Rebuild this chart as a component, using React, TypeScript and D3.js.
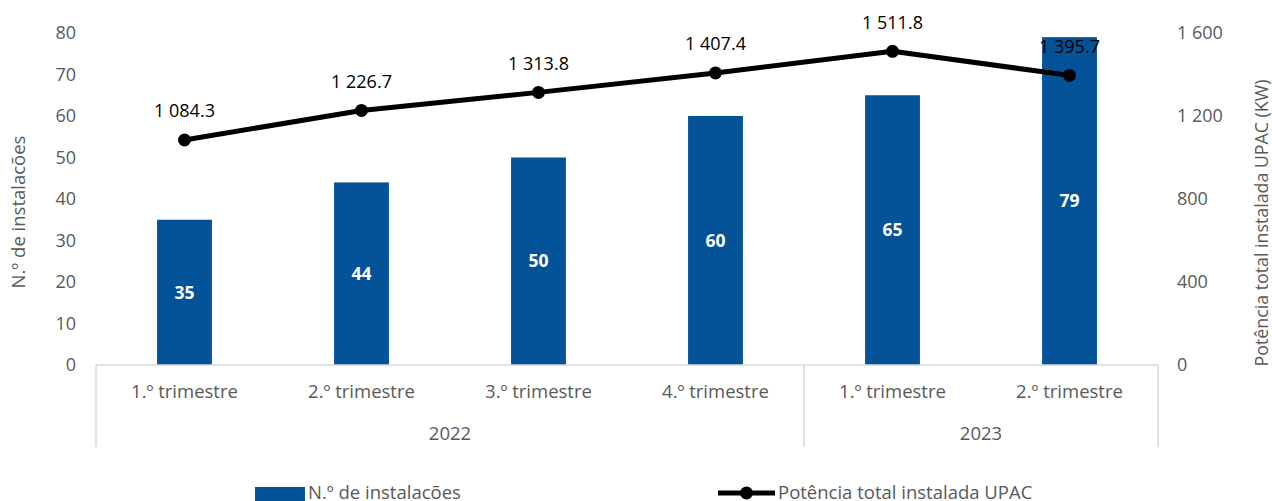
import React from "react";
import * as d3 from "d3";

const categories = ["1.º trimestre", "2.º trimestre", "3.º trimestre", "4.º trimestre", "1.º trimestre", "2.º trimestre"];
const years = ["2022", "2022", "2022", "2022", "2023", "2023"];
const installations = [35, 44, 50, 60, 65, 79];
const power = [1084.3, 1226.7, 1313.8, 1407.4, 1511.8, 1395.7];
const leftTicks = [0, 10, 20, 30, 40, 50, 60, 70, 80];
const rightTicks = [0, 400, 800, 1200, 1600];

const W = 1272, H = 501;
const left = 96, right = 1158, top = 33, bottom = 365;
const FONT = "'Open Sans', sans-serif";
const BLUE = "#045297";
const GREY = "#595959";

const fmtSpace = (v: number, dec: number) => {
  const s = v.toFixed(dec);
  const [i, f] = s.split(".");
  const ii = i.replace(/\B(?=(\d{3})+(?!\d))/g, " ");
  return f ? `${ii}.${f}` : ii;
};

export default function App() {
  const idx = categories.map((_, i) => String(i));
  const x = d3.scaleBand<string>().domain(idx).range([left, right]).paddingInner(0.69).paddingOuter(0.345);
  const yL = d3.scaleLinear().domain([0, 80]).range([bottom, top]);
  const yR = d3.scaleLinear().domain([0, 1600]).range([bottom, top]);
  const cx = (i: number) => (x(String(i)) as number) + x.bandwidth() / 2;
  const line = d3.line<number>().x((_, i) => cx(i)).y((d) => yR(d));

  const groups: { year: string; start: number; end: number }[] = [];
  years.forEach((yv, i) => {
    const g = groups[groups.length - 1];
    if (g && g.year === yv) g.end = i;
    else groups.push({ year: yv, start: i, end: i });
  });
  const bandStart = (i: number) => left + (right - left) * i / categories.length;

  return (
    <svg width={W} height={H} style={{ position: "absolute", left: 0, top: 0, background: "#fff" }}>
      {installations.map((v, i) => (
        <rect key={i} x={x(String(i))} y={yL(v)} width={x.bandwidth()} height={yL(0) - yL(v)} fill={BLUE} />
      ))}
      {installations.map((v, i) => (
        <text key={i} x={cx(i)} y={(yL(v) + yL(0)) / 2} dy="0.35em" textAnchor="middle" fill="#fff"
          fontFamily={FONT} fontWeight={700} fontSize={17.5}>{v}</text>
      ))}
      <line x1={left} x2={right} y1={bottom} y2={bottom} stroke="#d9d9d9" strokeWidth={1.5} />
      {groups.map((g, k) => (
        <line key={"gs" + k} x1={bandStart(g.start)} x2={bandStart(g.start)} y1={bottom} y2={447} stroke="#d9d9d9" strokeWidth={1.5} />
      ))}
      <line x1={right} x2={right} y1={bottom} y2={447} stroke="#d9d9d9" strokeWidth={1.5} />
      {categories.map((c, i) => (
        <text key={"c" + i} x={cx(i)} y={392} dy="0.35em" textAnchor="middle" fill={GREY} fontFamily={FONT} fontSize={18.5}>{c}</text>
      ))}
      {groups.map((g, k) => (
        <text key={"g" + k} x={(bandStart(g.start) + bandStart(g.end + 1)) / 2} y={434} dy="0.35em" textAnchor="middle"
          fill={GREY} fontFamily={FONT} fontSize={18.5}>{g.year}</text>
      ))}
      {leftTicks.map((t) => (
        <text key={"l" + t} x={76} y={yL(t)} dy="0.35em" textAnchor="end" fill={GREY} fontFamily={FONT} fontSize={18}>{t}</text>
      ))}
      {rightTicks.map((t) => (
        <text key={"r" + t} x={1177} y={yR(t)} dy="0.35em" textAnchor="start" fill={GREY} fontFamily={FONT} fontSize={18}>{fmtSpace(t, 0)}</text>
      ))}
      <text transform={`translate(19,212) rotate(-90)`} textAnchor="middle" dy="0.35em" fill={GREY}
        fontFamily={FONT} fontSize={18.5}>N.º de instalacões</text>
      <text transform={`translate(1262,223) rotate(-90)`} textAnchor="middle" dy="0.35em" fill={GREY}
        fontFamily={FONT} fontSize={17.8}>Potência total instalada UPAC (KW)</text>
      <path d={line(power) as string} fill="none" stroke="#000" strokeWidth={5} strokeLinejoin="round" />
      {power.map((v, i) => (
        <circle key={"p" + i} cx={cx(i)} cy={yR(v)} r={6.5} fill="#000" />
      ))}
      {power.map((v, i) => (
        <text key={"pl" + i} x={cx(i)} y={yR(v) - 29} dy="0.35em" textAnchor="middle" fill="#000" fontFamily={FONT} fontSize={18}>{fmtSpace(v, 1)}</text>
      ))}
      <rect x={255} y={487} width={50} height={16} fill={BLUE} />
      <text x={308} y={493} dy="0.35em" fill={GREY} fontFamily={FONT} fontSize={18.5}>N.º de instalacões</text>
      <line x1={718} x2={775} y1={493} y2={493} stroke="#000" strokeWidth={5} />
      <circle cx={746.5} cy={493} r={6.5} fill="#000" />
      <text x={778} y={493} dy="0.35em" fill={GREY} fontFamily={FONT} fontSize={18.5}>Potência total instalada UPAC</text>
    </svg>
  );
}
